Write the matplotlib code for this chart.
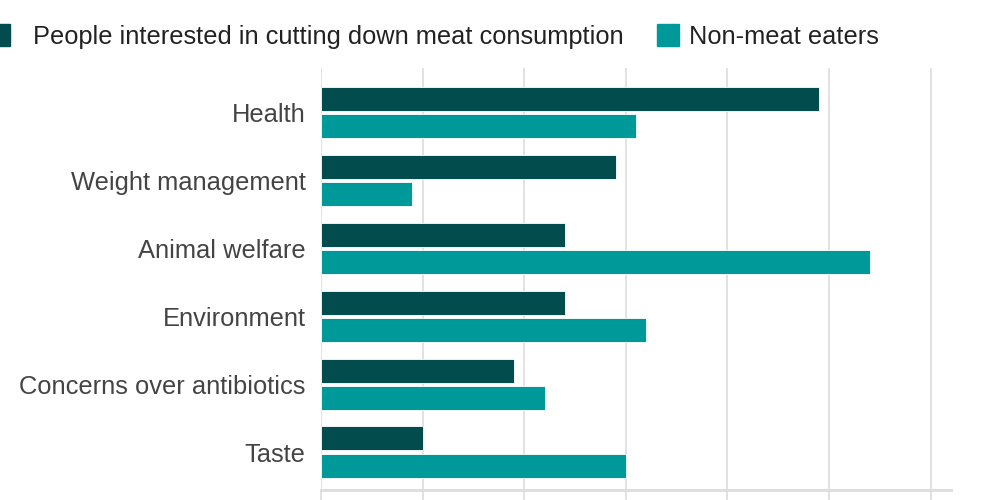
import matplotlib.pyplot as plt
from matplotlib.patches import Rectangle
import numpy as np

plt.rcParams['font.family'] = ['Liberation Sans', 'DejaVu Sans']

categories = ["Health", "Weight management", "Animal welfare", "Environment",
              "Concerns over antibiotics", "Taste"]
cutting_down = [49, 29, 24, 24, 19, 10]
non_meat = [31, 9, 54, 32, 22, 30]
series_names = ["People interested in cutting down meat consumption", "Non-meat eaters"]

dark = "#024c4e"
teal = "#009999"
grid_col = "#dddddd"
text_col = "#444444"

fig = plt.figure(figsize=(10, 5), dpi=100)
ax = fig.add_axes([0.321, 0.02, 0.63, 0.844])

y = np.arange(len(categories))
h = 0.355
ax.barh(y - 0.2, cutting_down, height=h, color=dark, edgecolor="white", linewidth=0.6, zorder=3)
ax.barh(y + 0.2, non_meat, height=h, color=teal, edgecolor="white", linewidth=0.6, zorder=3)

ax.set_xlim(0, 62)
ax.set_ylim(5.56, -0.66)
ax.set_xticks(np.arange(0, 61, 10))
ax.set_xticklabels([])
ax.set_yticks(y)
ax.set_yticklabels(categories, fontsize=18.4, color=text_col)
ax.tick_params(axis="y", length=0, pad=11)
ax.tick_params(axis="x", length=10, color=grid_col, width=1.2)
ax.grid(axis="x", color=grid_col, linewidth=1.2, zorder=0)
for s in ["top", "right", "left"]:
    ax.spines[s].set_visible(False)
ax.spines["bottom"].set_color(grid_col)
ax.spines["bottom"].set_linewidth(2)

# legend drawn across the top
fig.patches.append(Rectangle((-0.012, 0.908), 0.022, 0.044, transform=fig.transFigure,
                             color=dark, figure=fig))
fig.text(0.033, 0.926, series_names[0], fontsize=18.3, color="#222222", va="center")
fig.patches.append(Rectangle((0.657, 0.908), 0.022, 0.044, transform=fig.transFigure,
                             color=teal, figure=fig))
fig.text(0.689, 0.926, series_names[1], fontsize=18.3, color="#222222", va="center")

fig.savefig("out.png", dpi=100)
